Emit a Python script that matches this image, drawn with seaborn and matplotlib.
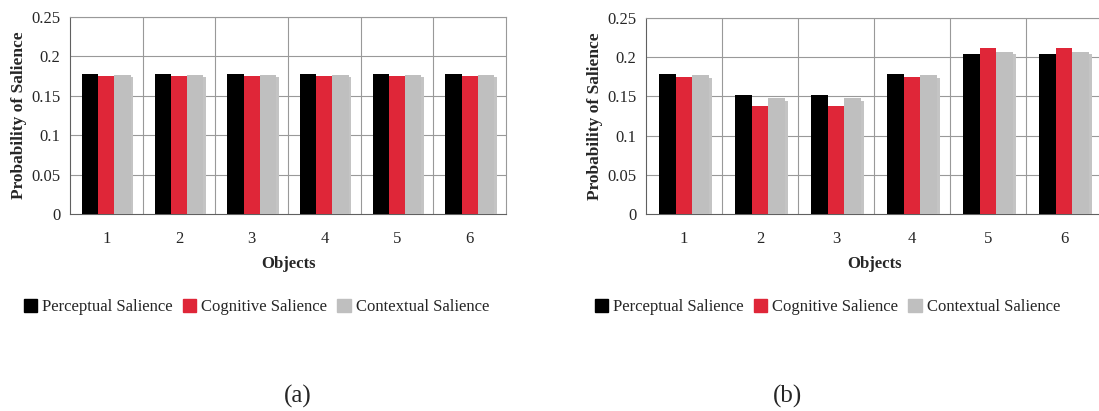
import matplotlib
matplotlib.use("Agg")
import matplotlib.pyplot as plt
import matplotlib.patheffects as pe
import seaborn as sns
import pandas as pd

objects = ["1", "2", "3", "4", "5", "6"]
series = ["Perceptual Salience", "Cognitive Salience", "Contextual Salience"]
colors = ["#000000", "#DF2638", "#BFBFBF"]

# panel (a)
a_perceptual = [0.178, 0.178, 0.178, 0.178, 0.178, 0.178]
a_cognitive = [0.175, 0.175, 0.175, 0.175, 0.175, 0.175]
a_contextual = [0.177, 0.177, 0.177, 0.177, 0.177, 0.177]

# panel (b)
b_perceptual = [0.178, 0.152, 0.152, 0.178, 0.204, 0.204]
b_cognitive = [0.175, 0.138, 0.138, 0.175, 0.212, 0.212]
b_contextual = [0.177, 0.148, 0.148, 0.177, 0.207, 0.207]

yticks = [0, 0.05, 0.1, 0.15, 0.2, 0.25]
yticklabels = ["0", "0.05", "0.1", "0.15", "0.2", "0.25"]

sns.set_theme(style="white")
plt.rcParams["font.family"] = ["Liberation Serif", "DejaVu Serif"]


def make_df(p, c, x):
    rows = []
    for vals, name in zip([p, c, x], series):
        for o, v in zip(objects, vals):
            rows.append({"Objects": o, "Series": name, "Value": v})
    return pd.DataFrame(rows)


fig = plt.figure(figsize=(10.99, 4.11), dpi=100)
ax_a = fig.add_axes([70 / 1099, 1 - 214 / 411, 436 / 1099, 197 / 411])
ax_b = fig.add_axes([646 / 1099, 1 - 214 / 411, 456 / 1099, 196 / 411])

panels = [
    (ax_a, make_df(a_perceptual, a_cognitive, a_contextual), "(a)", 298 / 1099, 24 / 1099),
    (ax_b, make_df(b_perceptual, b_cognitive, b_contextual), "(b)", 788 / 1099, 595 / 1099),
]

for ax, df, cap, capx, legx in panels:
    sns.barplot(data=df, x="Objects", y="Value", hue="Series", hue_order=series,
                palette=colors, width=0.67, gap=0, saturation=1, ax=ax,
                edgecolor="none", linewidth=0, errorbar=None, zorder=3)
    # soft shadow on contextual bars
    for bar in ax.containers[2]:
        bar.set_path_effects([pe.SimplePatchShadow(offset=(2, -2), shadow_rgbFace="#C4C4C4", alpha=1.0),
                              pe.Normal()])
    ax.set_ylim(0, 0.25)
    ax.set_xlim(-0.5, 5.5)
    ax.set_yticks(yticks)
    ax.set_yticklabels(yticklabels)
    ax.set_xticks(range(len(objects)))
    ax.set_xticklabels(objects)
    ax.set_xticks([i - 0.5 for i in range(len(objects) + 1)], minor=True)
    ax.tick_params(axis="x", which="major", length=0, pad=12, labelsize=12)
    ax.tick_params(axis="x", which="minor", length=5, width=0.8, color="#808080", direction="out")
    ax.tick_params(axis="y", which="major", length=4, width=0.8, color="#808080", direction="out",
                   labelsize=12, pad=3)
    ax.grid(False)
    for y in yticks[1:]:
        ax.axhline(y, color="#999999", lw=0.8, zorder=1)
    for i in range(1, len(objects)):
        ax.axvline(i - 0.5, color="#999999", lw=0.8, zorder=1)
    for s in ax.spines.values():
        s.set_visible(True)
        s.set_color("#999999")
        s.set_linewidth(0.8)
    ax.spines["left"].set_color("#606060")
    ax.spines["bottom"].set_color("#606060")
    ax.set_xlabel("Objects", fontsize=12, fontweight="bold", labelpad=7)
    ax.set_ylabel("Probability of Salience", fontsize=12.5, fontweight="bold", labelpad=3)
    ax.get_legend().remove()
    handles = [plt.Rectangle((0, 0), 1, 1, color=c) for c in colors]
    fig.legend(handles, series, loc="center left", bbox_to_anchor=(legx, 1 - 307 / 411),
               ncol=3, frameon=False, fontsize=12, handlelength=0.8, handleheight=0.8,
               handletextpad=0.3, columnspacing=0.6, borderaxespad=0, borderpad=0)
    fig.text(capx, 1 - 396 / 411, cap, ha="center", va="center", fontsize=18)

fig.savefig("out.png", dpi=100)
